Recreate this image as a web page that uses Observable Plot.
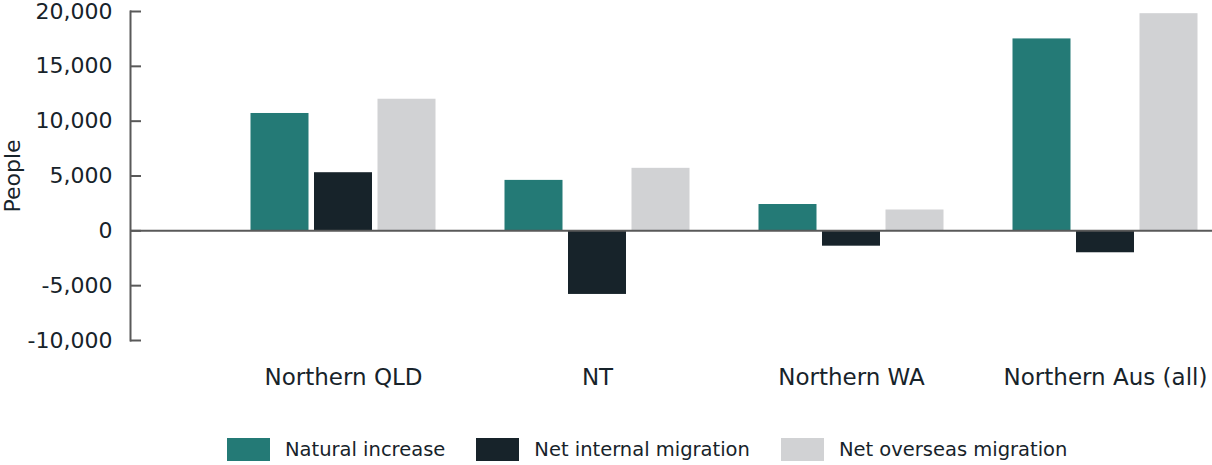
<!DOCTYPE html>
<html>
<head>
<meta charset="utf-8">
<script src="https://cdn.jsdelivr.net/npm/d3@7"></script>
<script src="https://cdn.jsdelivr.net/npm/@observablehq/plot@0.6"></script>
<style>
  html, body { margin: 0; padding: 0; background: #ffffff; }
  #chart { width: 1212px; height: 465px; overflow: hidden; }
  #legend { margin-left: 227px; padding-top: 18px; font-family: "DejaVu Sans", sans-serif; font-size: 19.5px; color: #17232a; }
  #legend span { margin-right: 31px !important; }
  #legend svg { margin-right: 15px !important; }
</style>
</head>
<body>
<div id="chart"></div>
<script>
const categories = ["Northern QLD", "NT", "Northern WA", "Northern Aus (all)"];
const series = ["Natural increase", "Net internal migration", "Net overseas migration"];
const naturalIncrease = [10700, 4600, 2400, 17500];
const netInternalMigration = [5300, -5800, -1400, -2000];
const netOverseasMigration = [12000, 5700, 1900, 19800];
const seriesColors = ["#247a76", "#17232a", "#d1d2d4"];
const yTicks = [-10000, -5000, 0, 5000, 10000, 15000, 20000];

const seriesValues = [naturalIncrease, netInternalMigration, netOverseasMigration];
const data = [];
categories.forEach((c, i) => {
  series.forEach((s, j) => {
    data.push({category: c, series: s, value: seriesValues[j][i]});
  });
});

const axisColor = "#595959";
const textColor = "#17232a";
const barStep = 63.5; // horizontal offset between bars within a group (px)
const fmt = d3.format(",");

const chart = Plot.plot({
  width: 1212,
  height: 415,
  marginLeft: 130,
  marginRight: 0,
  marginTop: 11,
  marginBottom: 75,
  style: {fontFamily: "DejaVu Sans, sans-serif", fontSize: "22px", color: textColor, background: "#ffffff", overflow: "visible"},
  x: {domain: categories, range: [216, 1232], paddingInner: 0.772, paddingOuter: 0.386, label: null},
  y: {domain: [-10000, 20000]},
  color: {domain: series, range: seriesColors},
  marks: [
    ...series.map((s, j) =>
      Plot.barY(data.filter(d => d.series === s), {x: "category", y: "value", fill: "series", dx: (j - 1) * barStep})
    ),
    Plot.ruleY([0], {stroke: axisColor, strokeWidth: 2}),
    Plot.frame({anchor: "left", stroke: axisColor, strokeWidth: 2}),
    Plot.axisY({
      ticks: yTicks,
      tickSize: -11,
      tickPadding: 29,
      tickFormat: d => fmt(d).replace("\u2212", "-"),
      stroke: axisColor,
      strokeWidth: 2,
      fill: textColor,
      fontSize: 22,
      label: "People",
      labelAnchor: "center",
      labelArrow: "none",
      labelOffset: 126
    }),
    Plot.axisX({
      tickSize: 0,
      tickPadding: 28,
      fontSize: 23,
      fill: textColor,
      label: null
    })
  ]
});

const legend = Plot.legend({
  color: {domain: series, range: seriesColors},
  swatchWidth: 43,
  swatchHeight: 23
});
legend.id = "legend";

const container = document.getElementById("chart");
container.appendChild(chart);
container.appendChild(legend);
</script>
</body>
</html>
